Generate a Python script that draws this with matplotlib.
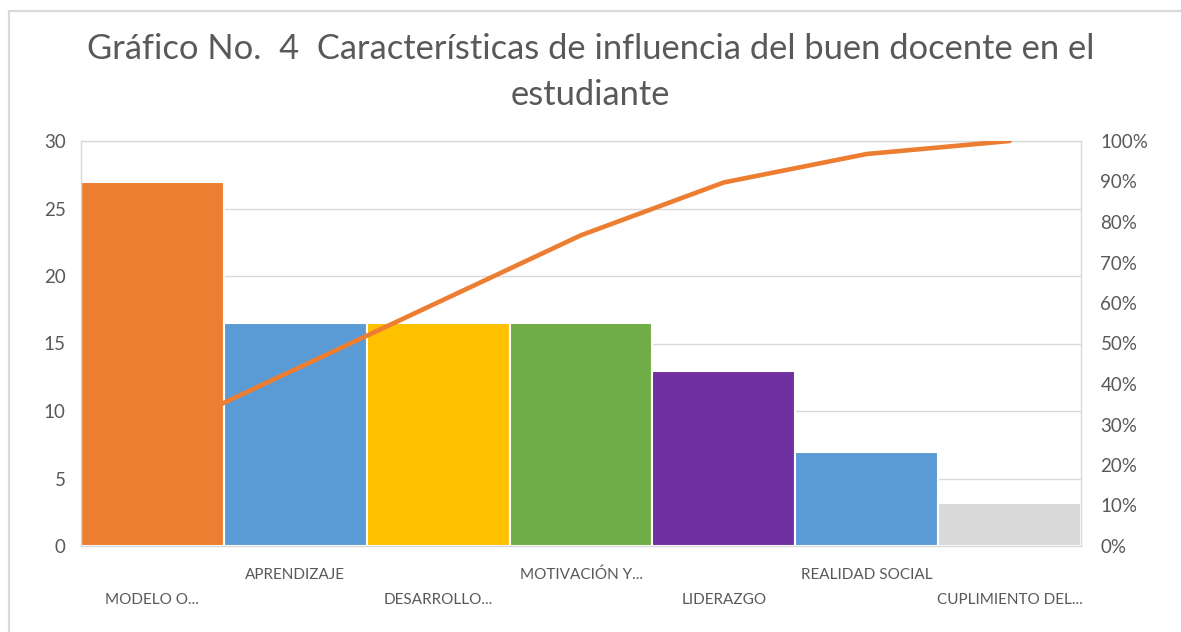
import matplotlib
matplotlib.use("Agg")
import matplotlib.pyplot as plt
import numpy as np
from matplotlib.patches import Rectangle

categories = ["MODELO O...", "APRENDIZAJE", "DESARROLLO...", "MOTIVACIÓN Y...",
              "LIDERAZGO", "REALIDAD SOCIAL", "CUPLIMIENTO DEL..."]
values = [27, 16.5, 16.5, 16.5, 13, 7, 3.2]
bar_colors = ["#ED7D31", "#5B9BD5", "#FFC000", "#70AD47", "#7030A0", "#5B9BD5", "#D9D9D9"]
left_ticks = [0, 5, 10, 15, 20, 25, 30]
right_ticks = [0, 10, 20, 30, 40, 50, 60, 70, 80, 90, 100]
title = "Gráfico No.  4  Características de influencia del buen docente en el\nestudiante"

plt.rcParams['font.family'] = ['Lato', 'DejaVu Sans']
W, H = 1181, 632
fig = plt.figure(figsize=(W / 100, H / 100), dpi=100)

# chart border
fig.patches.append(Rectangle((8.5 / W, -0.1), 1.2, (H - 10.5) / H + 0.1, transform=fig.transFigure,
                             fill=False, edgecolor="#D9D9D9", linewidth=1.6))

ax = fig.add_axes([81 / W, 1 - 546 / H, 1000 / W, 405 / H])
x = np.arange(len(categories))
ax.bar(x, values, width=1.0, color=bar_colors, edgecolor="white", linewidth=1.5, zorder=2)
ax.set_xlim(-0.5, len(categories) - 0.5)
ax.set_ylim(0, 30)
ax.set_yticks(left_ticks)
ax.yaxis.grid(True, color="#D9D9D9", linewidth=1.0, zorder=0)
ax.set_axisbelow(True)
for s in ax.spines.values():
    s.set_color("#D9D9D9")
    s.set_linewidth(1.0)
ax.tick_params(axis="y", length=0, labelsize=13.5, labelcolor="#595959", pad=11)
ax.set_xticks([])

ax2 = ax.twinx()
cum = np.cumsum(values) / np.sum(values) * 100
ax2.plot(x, cum, color="#ED7D31", linewidth=3.3, solid_capstyle="round", zorder=3)
ax2.set_ylim(0, 100)
ax2.set_yticks(right_ticks)
ax2.set_yticklabels([f"{t}%" for t in right_ticks])
ax2.tick_params(axis="y", length=0, labelsize=13.5, labelcolor="#595959", pad=14)
for s in ax2.spines.values():
    s.set_visible(False)

# staggered category labels
for i, c in enumerate(categories):
    yy = -0.072 if i % 2 == 1 else -0.133
    ax.text(i, yy, c, transform=ax.get_xaxis_transform(), ha="center", va="center",
            fontsize=11, color="#595959")

fig.text(0.5, 1 - 72 / H, title, ha="center", va="center", fontsize=24.8,
         color="#595959", linespacing=1.55)

fig.savefig("out.png", dpi=100)
